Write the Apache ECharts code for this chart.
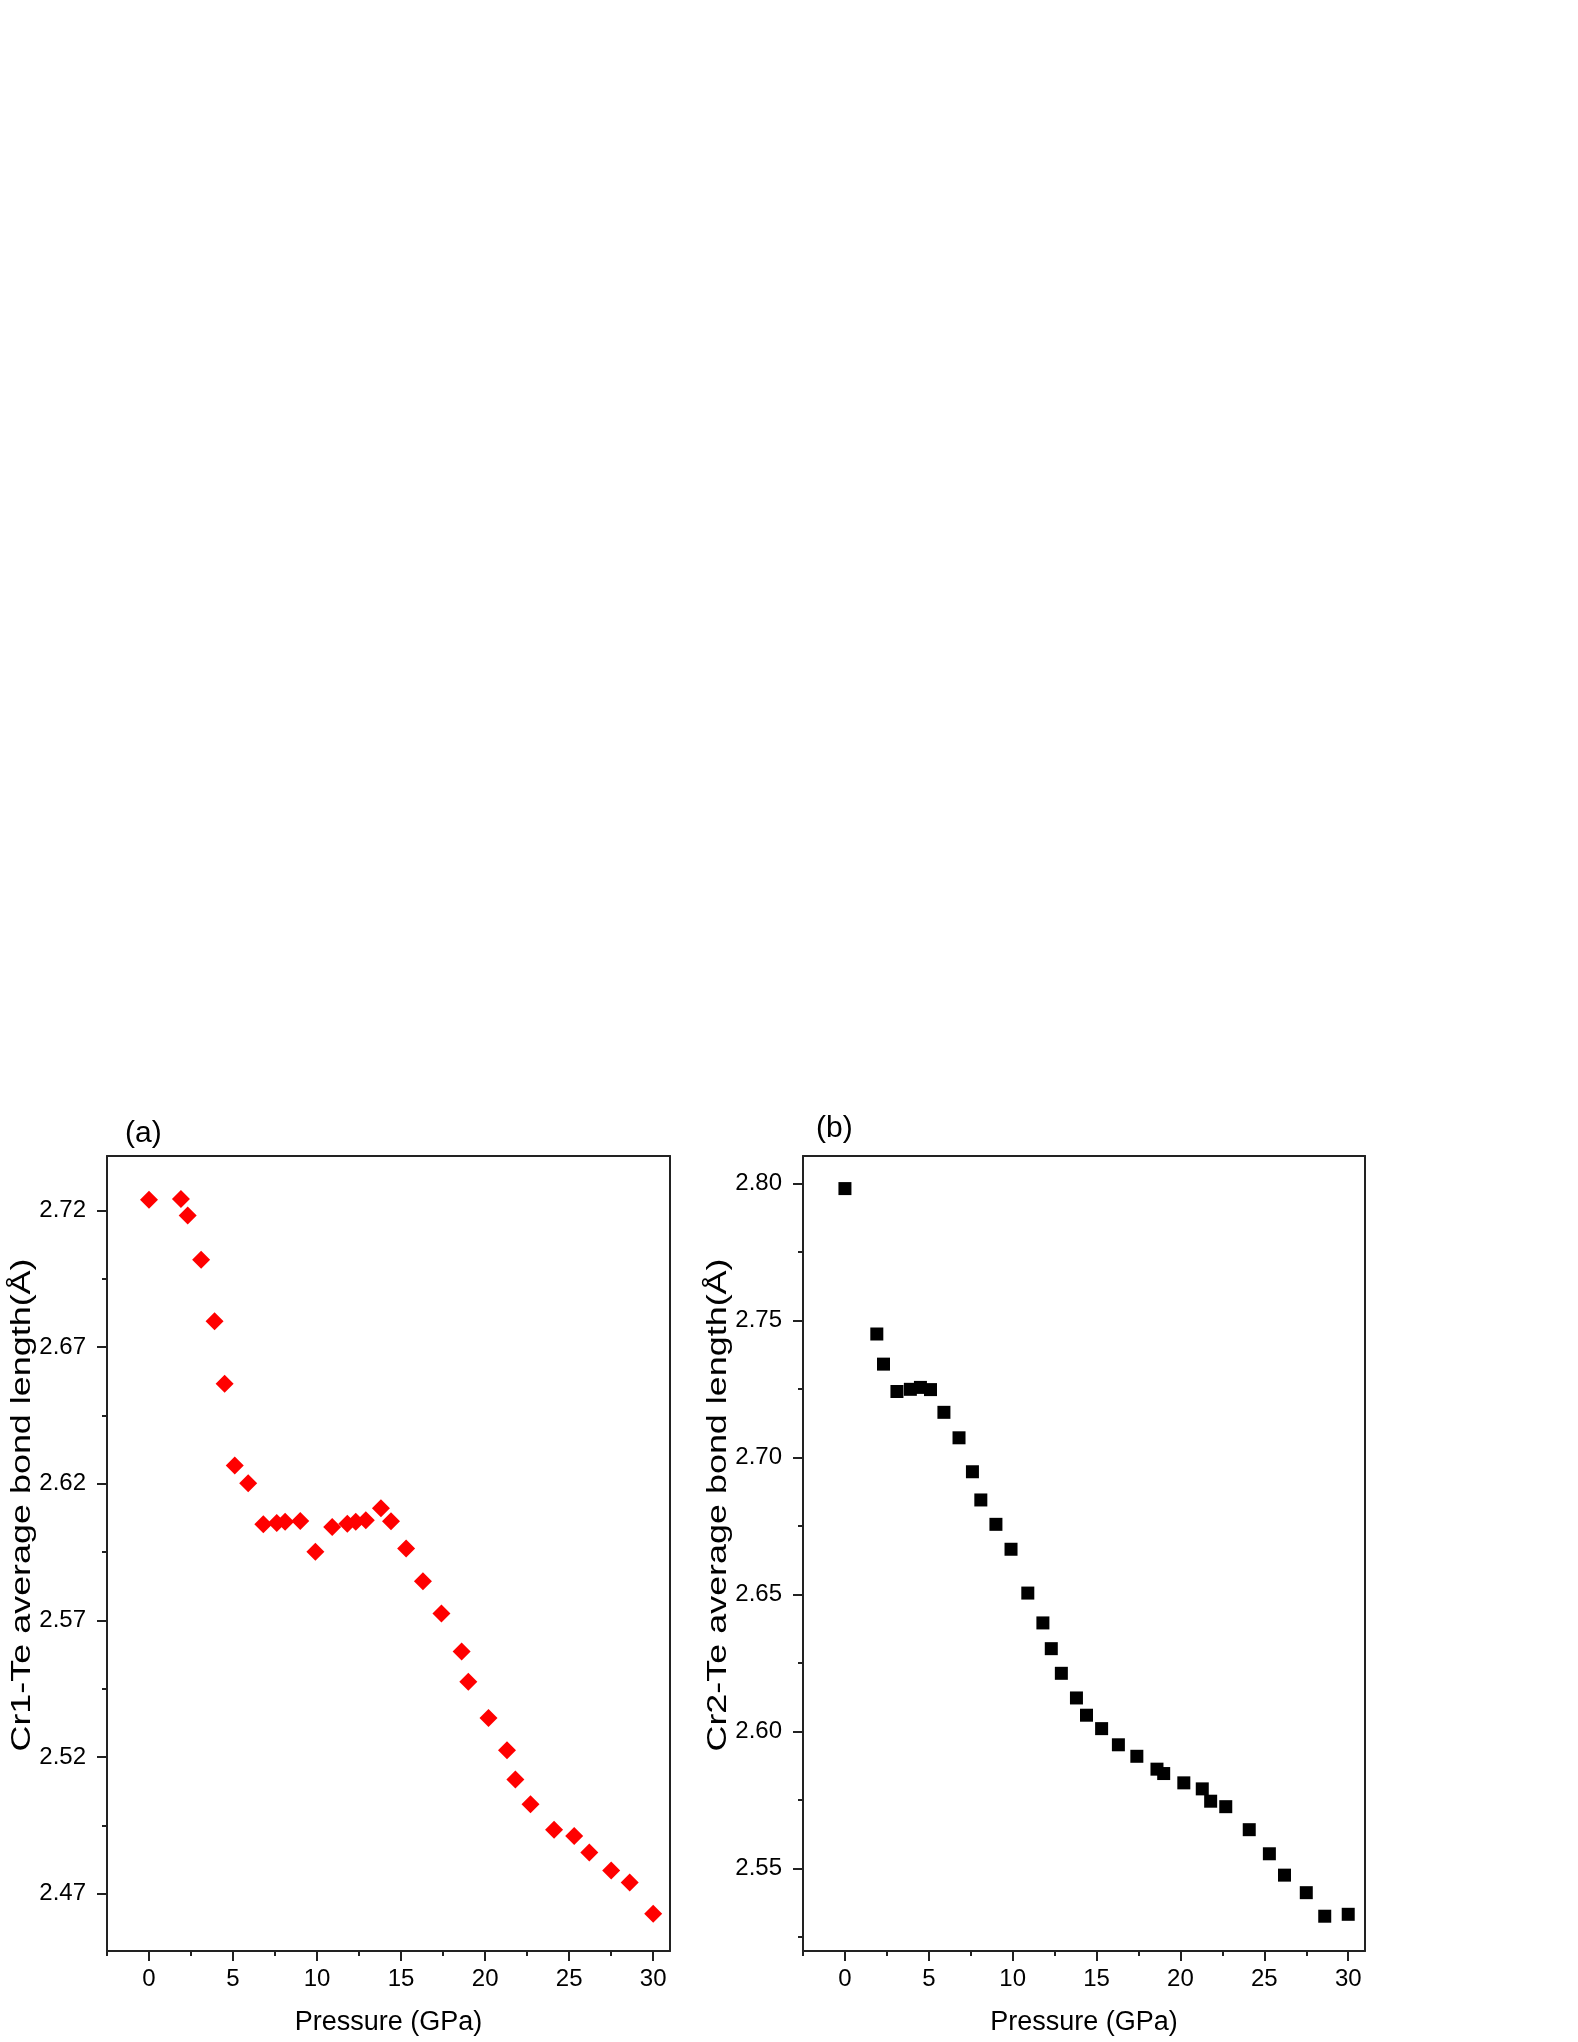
<!DOCTYPE html>
<html>
<head>
<meta charset="utf-8">
<title>Cr-Te average bond length vs pressure</title>
<script src="https://cdn.jsdelivr.net/npm/echarts@6/dist/echarts.min.js"></script>
<style>
  html, body { margin: 0; padding: 0; background: #fff; }
  #chart { width: 1578px; height: 2042px; }
</style>
</head>
<body>
<div id="chart"></div>
<script>
// pressure points (GPa), shared by both panels
const pressure = [0, 1.9, 2.3, 3.1, 3.9, 4.5, 5.1, 5.9, 6.8, 7.6, 8.1, 9.0, 9.9, 10.9, 11.8, 12.3, 12.9,
  13.8, 14.4, 15.3, 16.3, 17.4, 18.6, 19.0, 20.2, 21.3, 21.8, 22.7, 24.1, 25.3, 26.2, 27.5, 28.6, 30.0]

// (a) Cr1-Te average bond length (Å)
const cr1Te = [2.7240, 2.7243, 2.7182, 2.7020, 2.6795, 2.6566, 2.6267, 2.6202, 2.6052, 2.6057, 2.6061,
  2.6064, 2.5951, 2.6042, 2.6054, 2.6061, 2.6067, 2.6111, 2.6063, 2.5963, 2.5843, 2.5725, 2.5586,
  2.5476, 2.5343, 2.5225, 2.5118, 2.5027, 2.4934, 2.4911, 2.4851, 2.4785, 2.4741, 2.4626]

// (b) Cr2-Te average bond length (Å)
const cr2Te = [2.7982, 2.7451, 2.7341, 2.7241, 2.7249, 2.7256, 2.7248, 2.7165, 2.7072, 2.6948, 2.6845,
  2.6756, 2.6665, 2.6505, 2.6396, 2.6302, 2.6212, 2.6122, 2.6059, 2.6010, 2.5951, 2.5909, 2.5862,
  2.5846, 2.5812, 2.5790, 2.5745, 2.5725, 2.5641, 2.5553, 2.5475, 2.5411, 2.5325, 2.5332]

// tick values
const xMajor = [0, 5, 10, 15, 20, 25, 30]
const xMinor = [-2.5, 2.5, 7.5, 12.5, 17.5, 22.5, 27.5]
const yMajorA = [2.47, 2.52, 2.57, 2.62, 2.67, 2.72]
const yMinorA = [2.495, 2.545, 2.595, 2.645, 2.695]
const yMajorB = [2.55, 2.60, 2.65, 2.70, 2.75, 2.80]
const yMinorB = [2.525, 2.575, 2.625, 2.675, 2.725, 2.775]

const FONT = '"Liberation Sans", Arial, Helvetica, sans-serif'
const LINE = { color: '#222', width: 2 }

const chart = echarts.init(document.getElementById('chart'), null, { renderer: 'canvas' })

const xAxes = []
const yAxes = []

const addAxes = (gridIndex, yMin, yMax, yMajor, yMinor) => {
  // bottom axis with labels and major ticks
  xAxes.push({
    type: 'value', gridIndex, position: 'bottom', min: -2.5, max: 31,
    axisLine: { show: true, onZero: false, lineStyle: LINE },
    axisTick: { show: true, inside: false, length: 10, lineStyle: LINE, customValues: xMajor },
    axisLabel: { show: true, customValues: xMajor, margin: 16, fontSize: 24, fontFamily: FONT, color: '#000' },
    splitLine: { show: false },
    name: 'Pressure (GPa)', nameLocation: 'middle', nameGap: 58,
    nameTextStyle: { fontSize: 27, fontFamily: FONT, color: '#000' }
  })
  // bottom minor ticks
  xAxes.push({
    type: 'value', gridIndex, position: 'bottom', min: -2.5, max: 31,
    axisLine: { show: false, onZero: false },
    axisTick: { show: true, inside: false, length: 5, lineStyle: LINE, customValues: xMinor },
    axisLabel: { show: false },
    splitLine: { show: false }
  })
  // top frame line
  xAxes.push({
    type: 'value', gridIndex, position: 'top', min: -2.5, max: 31,
    axisLine: { show: true, onZero: false, lineStyle: LINE },
    axisTick: { show: false }, axisLabel: { show: false }, splitLine: { show: false }
  })

  yAxes.push({
    type: 'value', gridIndex, position: 'left', min: yMin, max: yMax,
    axisLine: { show: true, onZero: false, lineStyle: LINE },
    axisTick: { show: true, inside: false, length: 10, lineStyle: LINE, customValues: yMajor },
    axisLabel: {
      show: true, customValues: yMajor, margin: 21, fontSize: 24, fontFamily: FONT, color: '#000',
      formatter: v => v.toFixed(2)
    },
    splitLine: { show: false }
  })
  yAxes.push({
    type: 'value', gridIndex, position: 'left', min: yMin, max: yMax,
    axisLine: { show: false, onZero: false },
    axisTick: { show: true, inside: false, length: 5, lineStyle: LINE, customValues: yMinor },
    axisLabel: { show: false },
    splitLine: { show: false }
  })
  // right frame line
  yAxes.push({
    type: 'value', gridIndex, position: 'right', min: yMin, max: yMax,
    axisLine: { show: true, onZero: false, lineStyle: LINE },
    axisTick: { show: false }, axisLabel: { show: false }, splitLine: { show: false }
  })
}

addAxes(0, 2.449, 2.740, yMajorA, yMinorA)
addAxes(1, 2.5198, 2.8101, yMajorB, yMinorB)

// y titles are drawn stretched along the reading direction, as in the source figure
const yTitle = (text, x, y) => ({
  type: 'text', x, y, rotation: Math.PI / 2, scaleX: 1.33, silent: true,
  style: { text, font: '27px ' + FONT, fill: '#000', align: 'center', verticalAlign: 'middle' }
})

const option = {
  backgroundColor: '#fff',
  animation: false,
  grid: [
    { left: 107, top: 1156, width: 563, height: 795, containLabel: false, outerBoundsMode: 'none' },
    { left: 803, top: 1156, width: 562, height: 795, containLabel: false, outerBoundsMode: 'none' }
  ],
  xAxis: xAxes,
  yAxis: yAxes,
  graphic: [
    { type: 'text', left: 125, top: 1119, style: { text: '(a)', font: '30px ' + FONT, fill: '#000' } },
    { type: 'text', left: 816, top: 1114, style: { text: '(b)', font: '30px ' + FONT, fill: '#000' } },
    yTitle('Cr1-Te average bond length(Å)', 23, 1505),
    yTitle('Cr2-Te average bond length(Å)', 719, 1505)
  ],
  series: [
    {
      type: 'scatter', xAxisIndex: 0, yAxisIndex: 0,
      symbol: 'diamond', symbolSize: 18,
      itemStyle: { color: '#ff0000', opacity: 1 },
      data: pressure.map((p, i) => [p, cr1Te[i]])
    },
    {
      type: 'scatter', xAxisIndex: 3, yAxisIndex: 3,
      symbol: 'rect', symbolSize: 13,
      itemStyle: { color: '#000', opacity: 1 },
      data: pressure.map((p, i) => [p, cr2Te[i]])
    }
  ]
}

chart.setOption(option)
</script>
</body>
</html>
